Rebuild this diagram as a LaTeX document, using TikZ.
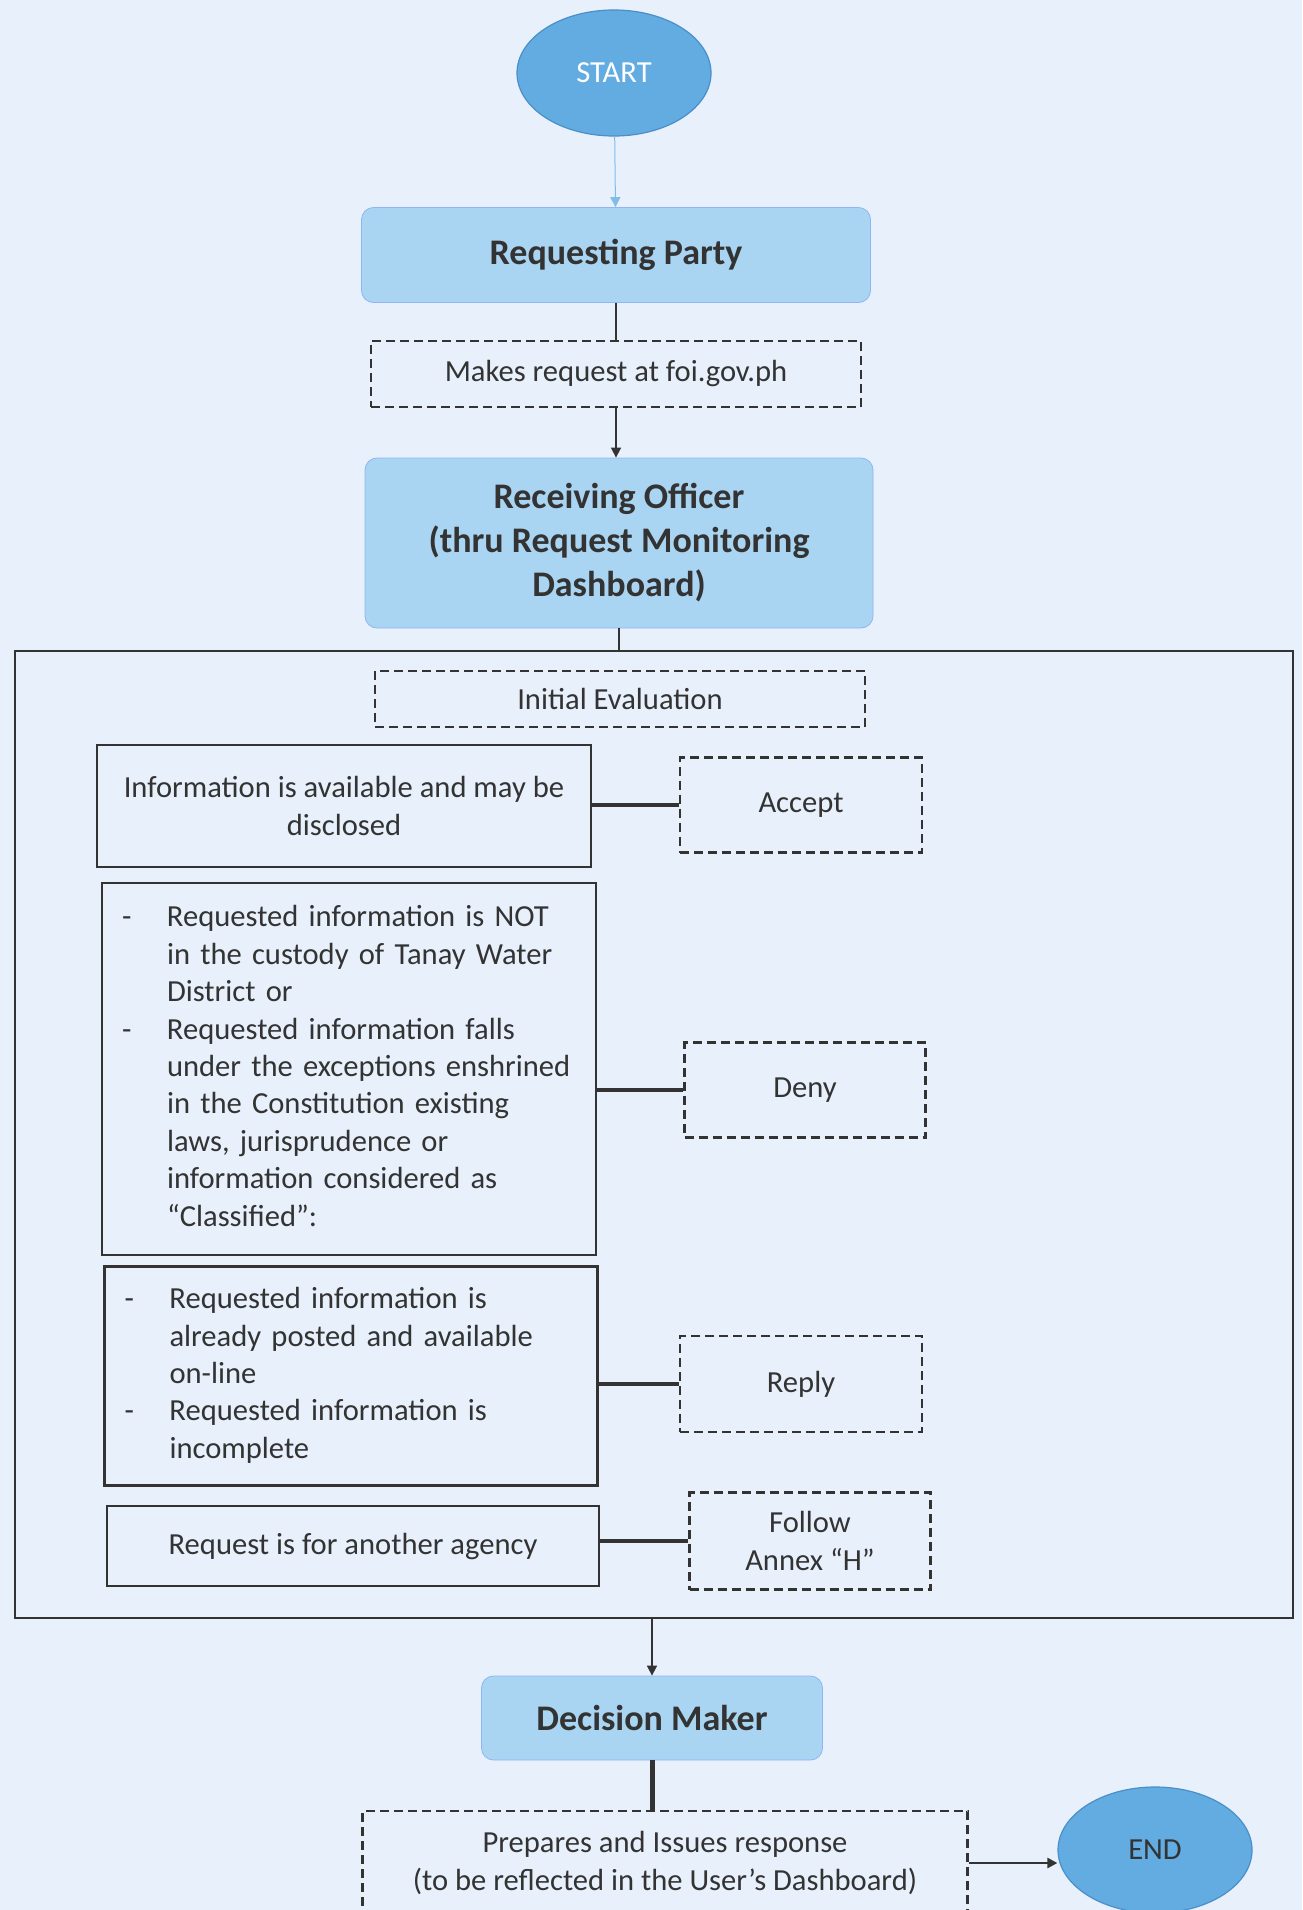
\documentclass[tikz,border=0pt]{standalone}
\usepackage{fontspec}
\setmainfont{Carlito}
\usepackage{tikz}
\usepackage{xcolor}
\usetikzlibrary{shapes.geometric, arrows.meta, positioning}
\definecolor{pageblue}{HTML}{E7F0FB}
\definecolor{boxblue}{HTML}{A9D5F2}
\definecolor{ovalblue}{HTML}{62ACE2}
\definecolor{ovaledge}{HTML}{4A8FC8}
\definecolor{inkgray}{HTML}{333333}
\newcommand{\bodysize}{\fontsize{15.3}{18.7}\selectfont}
\newcommand{\titlesize}{\fontsize{18}{22}\selectfont}

\tikzset{
    oval/.style={ellipse, fill=ovalblue, draw=ovaledge, line width=0.6pt,
        minimum width=97pt, minimum height=63pt, inner sep=0pt},
    role/.style={rectangle, rounded corners=6pt, fill=boxblue, draw=boxblue!85!blue,
        line width=0.4pt, text=inkgray, font=\titlesize\bfseries, align=center, inner sep=0pt},
    task/.style={rectangle, draw=inkgray, dash pattern=on 4.5pt off 2.5pt, line width=1.1pt,
        align=center, inner sep=0pt, text=inkgray},
    cond/.style={rectangle, draw=inkgray, line width=1.1pt, inner sep=0pt, text=inkgray},
    link/.style={draw=inkgray, line width=1.6pt},
    flow/.style={draw=inkgray, line width=0.8pt, -{Triangle[length=5pt,width=5pt]}},
}

\begin{document}
\begin{tikzpicture}[x=0.5pt, y=-0.5pt, font=\bodysize]
    % Page background
    \useasboundingbox (0,0) rectangle (1302,1910);
    \fill[pageblue] (0,0) rectangle (1302,1910);

    % Top of the flow
    \node[oval, text=white] (start) at (614,73) {START};
    \node[role, minimum width=254.5pt, minimum height=47.5pt] (reqparty) at (616,255) {Requesting Party};
    \node[task, minimum width=245pt, minimum height=33pt] (makesreq) at (616,374) {Makes request at foi.gov.ph};
    \node[role, minimum width=254pt, minimum height=85pt] (recvoff) at (619,543)
        {Receiving Officer\\(thru Request Monitoring\\Dashboard)};

    % Evaluation frame
    \node[cond, minimum width=639pt, minimum height=483.5pt] (evalbox) at (654,1134.5) {};
    \node[task, minimum width=245pt, minimum height=28pt] (initeval) at (620,699) {Initial Evaluation};

    % Conditions (left column)
    \node[cond, minimum width=247pt, minimum height=61pt, align=center] (infobox) at (344,806)
        {Information is available and may be\\disclosed};
    \node[cond, minimum width=247pt, minimum height=186pt, text width=227pt, align=left] (denylist) at (349,1069)
        {\begin{tabular}{@{}p{22.5pt}@{}l@{}}
         - & Requested information is NOT\\
           & in the custody of Tanay Water\\
           & District or\\
         - & Requested information falls\\
           & under the exceptions enshrined\\
           & in the Constitution existing\\
           & laws, jurisprudence or\\
           & information considered as\\
           & ``Classified'':
         \end{tabular}};
    \node[cond, minimum width=246.5pt, minimum height=109.5pt, text width=226.5pt, align=left] (replylist) at (351,1376)
        {\begin{tabular}{@{}p{22.5pt}@{}l@{}}
         - & Requested information is\\
           & already posted and available\\
           & on-line\\
         - & Requested information is\\
           & incomplete
         \end{tabular}};
    \node[cond, minimum width=246pt, minimum height=40pt] (agency) at (353,1546) {Request is for another agency};

    % Actions (right column)
    \node[task, minimum width=121pt, minimum height=47.5pt] (accept) at (801,805) {Accept};
    \node[task, minimum width=120.5pt, minimum height=47.5pt] (deny) at (805,1090) {Deny};
    \node[task, minimum width=121pt, minimum height=48pt] (reply) at (801,1384) {Reply};
    \node[task, minimum width=120.5pt, minimum height=48.5pt] (follow) at (810,1541) {Follow\\Annex ``H''};

    % Bottom of the flow
    \node[role, minimum width=170.5pt, minimum height=42pt] (decision) at (652,1718) {Decision Maker};
    \node[task, minimum width=302.5pt, minimum height=52pt] (prepares) at (665,1863)
        {Prepares and Issues response\\(to be reflected in the User's Dashboard)};
    \node[oval, text=inkgray] (end) at (1155,1850) {END};

    % Connectors
    \draw[flow, draw=ovalblue!80!white, line width=0.5pt] (start) -- (reqparty);
    \draw[link, line width=1.2pt] (reqparty.south) -- (makesreq.north);
    \draw[flow] (makesreq.south) -- (makesreq.south |- recvoff.north);
    \draw[link, line width=1pt] (recvoff.south) -- (recvoff.south |- evalbox.north);
    \foreach \cnd/\act in {infobox/accept, denylist/deny, replylist/reply, agency/follow} {
        \draw[link] (\act.west) -- (\act.west -| \cnd.east);
    }
    \draw[flow] (decision.north |- evalbox.south) -- (decision.north);
    \draw[link, line width=2.5pt] (decision.south) -- (decision.south |- prepares.north);
    \draw[flow, line width=1.2pt] (prepares.east) -- (prepares.east -| end.west);
\end{tikzpicture}
\end{document}
